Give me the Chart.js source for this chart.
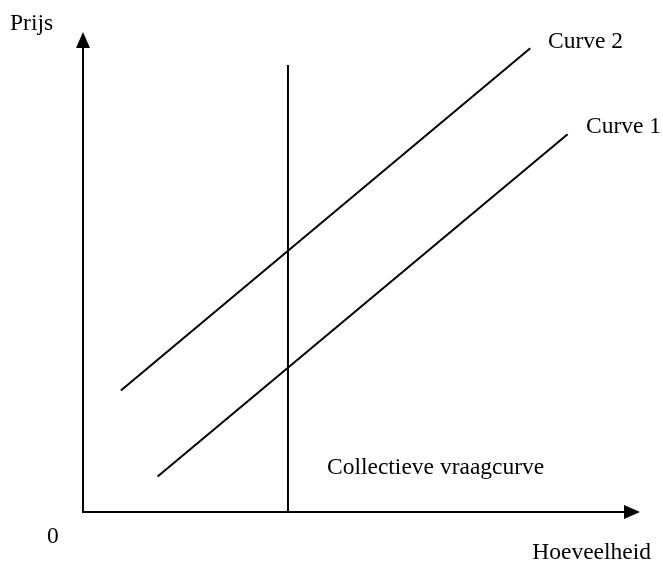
<!DOCTYPE html>
<html>
<head>
<meta charset="utf-8">
<script src="https://cdn.jsdelivr.net/npm/chart.js@4/dist/chart.umd.min.js"></script>
<style>
  html, body { margin: 0; padding: 0; background: #ffffff; }
  #wrap { width: 663px; height: 568px; position: relative; }
</style>
</head>
<body>
<div id="wrap"><canvas id="c" width="663" height="568"></canvas></div>
<script>
// ---- Data (axis units: 0..100 on both axes) ----
const curve1X = [13.4, 87.0];
const curve1Y = [7.4, 78.7];
const curve2X = [6.8, 80.3];
const curve2Y = [25.3, 96.6];
const demandX = [36.8, 36.8];
const demandY = [0, 93.1];
const seriesNames = ['Curve 1', 'Curve 2', 'Collectieve vraagcurve'];
const axisTitles = { y: 'Prijs', x: 'Hoeveelheid', origin: '0' };

function pts(xs, ys) { return xs.map((x, i) => ({ x: x, y: ys[i] })); }

const FONT = '23.5px "Liberation Serif", "Times New Roman", serif';

const drawingPlugin = {
  id: 'econDrawing',
  afterDatasetsDraw(chart) {
    const ctx = chart.ctx;
    const xs = chart.scales.x, ys = chart.scales.y;
    const x0 = xs.getPixelForValue(0), y0 = ys.getPixelForValue(0);
    const xEnd = xs.getPixelForValue(100), yEnd = ys.getPixelForValue(100);
    ctx.save();
    ctx.strokeStyle = '#000';
    ctx.fillStyle = '#000';
    ctx.lineWidth = 2;
    // axes
    ctx.beginPath();
    ctx.moveTo(x0, yEnd + 14);
    ctx.lineTo(x0, y0);
    ctx.lineTo(xEnd - 14, y0);
    ctx.stroke();
    // arrowheads
    ctx.beginPath();
    ctx.moveTo(x0, yEnd);
    ctx.lineTo(x0 - 7, yEnd + 16);
    ctx.lineTo(x0 + 7, yEnd + 16);
    ctx.closePath();
    ctx.fill();
    ctx.beginPath();
    ctx.moveTo(xEnd, y0);
    ctx.lineTo(xEnd - 16, y0 - 7);
    ctx.lineTo(xEnd - 16, y0 + 7);
    ctx.closePath();
    ctx.fill();
    // texts
    ctx.font = FONT;
    ctx.textBaseline = 'alphabetic';
    ctx.textAlign = 'left';
    ctx.fillText(axisTitles.y, 10, 30);
    ctx.fillText(axisTitles.origin, 47, 543);
    ctx.fillText(seriesNames[1], 548, 48);
    ctx.fillText(seriesNames[0], 586, 133);
    ctx.fillText(seriesNames[2], 327, 474);
    ctx.textAlign = 'right';
    ctx.fillText(axisTitles.x, 651, 559);
    ctx.restore();
  }
};

function build() {
  new Chart(document.getElementById('c'), {
    type: 'scatter',
    data: {
      datasets: [
        { label: seriesNames[0], data: pts(curve1X, curve1Y) },
        { label: seriesNames[1], data: pts(curve2X, curve2Y) },
        { label: seriesNames[2], data: pts(demandX, demandY) }
      ].map(d => Object.assign(d, {
        showLine: true, borderColor: '#000', borderWidth: 2,
        pointRadius: 0, pointHoverRadius: 0, fill: false, tension: 0
      }))
    },
    options: {
      responsive: false,
      animation: false,
      events: [],
      layout: { padding: { left: 83, right: 23, top: 32, bottom: 56 } },
      plugins: { legend: { display: false }, tooltip: { enabled: false } },
      scales: {
        x: { type: 'linear', min: 0, max: 100, display: false },
        y: { type: 'linear', min: 0, max: 100, display: false }
      }
    },
    plugins: [drawingPlugin]
  });
}

if (document.fonts && document.fonts.load) {
  document.fonts.load(FONT).then(build, build);
} else {
  build();
}
</script>
</body>
</html>
